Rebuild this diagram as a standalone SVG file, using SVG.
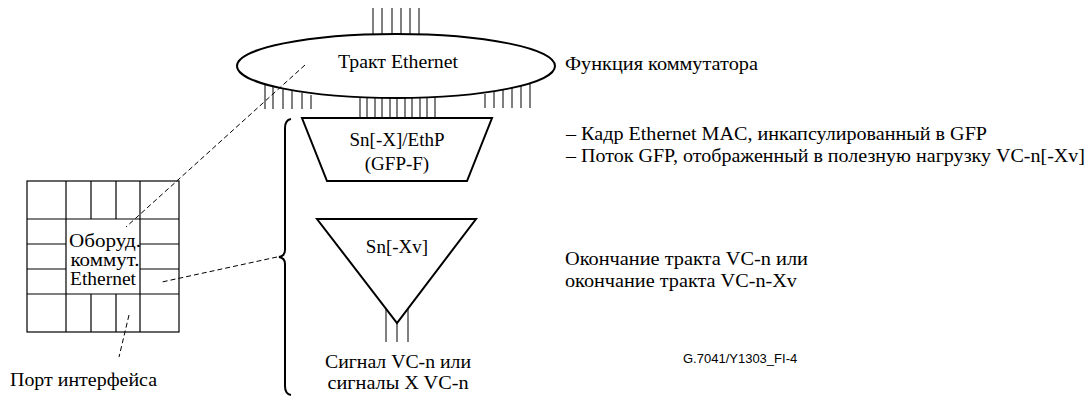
<svg xmlns="http://www.w3.org/2000/svg" width="1091" height="396" viewBox="0 0 1091 396">
<style>
text{font-family:"Liberation Serif","Times New Roman",serif;fill:#000;font-size:19px}
.ln{stroke:#000;stroke-width:1;fill:none}
.sh{stroke:#000;stroke-width:2;fill:#fff}
.ds{stroke:#000;stroke-width:1;fill:none;stroke-dasharray:5,3}
.code{font-family:"Liberation Sans",Arial,sans-serif;font-size:13px}
</style>
<rect width="1091" height="396" fill="#fff"/>
<g id="switch-function">
<g class="ln">
<path d="M373 8V34M382 8V34M392 8V34M401 8V34M410 8V34M419 8V34"/>
<path d="M265 82V109M273 86V109M283 89V109M292 91V109M302 93V109M311 95V109"/>
<path d="M485 94V108M494 92V108M503 90V108M512 88V108M521 85V108M530 82V108"/>
<path d="M360 97V118M367 98V118M375 98V118M382 98V118M390 98V118M397 98V118M405 98V118M412 98V118M420 98V118M427 97V118M435 97V118"/>
</g>
<ellipse cx="396" cy="66" rx="159" ry="32" class="sh"/>
<text x="398" y="68" text-anchor="middle" textLength="120" lengthAdjust="spacingAndGlyphs">Тракт Ethernet</text>
<text x="565" y="70" textLength="193" lengthAdjust="spacingAndGlyphs">Функция коммутатора</text>
</g>
<g id="adapter">
<polygon points="302,118 492,118 467,181 327,181" class="sh"/>
<text x="397" y="146" text-anchor="middle">Sn[-X]/EthP</text>
<text x="397" y="170" text-anchor="middle">(GFP-F)</text>
<text x="566" y="140" textLength="421" lengthAdjust="spacingAndGlyphs">– Кадр Ethernet MAC, инкапсулированный в GFP</text>
<text x="566" y="162" textLength="519" lengthAdjust="spacingAndGlyphs">– Поток GFP, отображенный в полезную нагрузку VC-n[-Xv]</text>
</g>
<g id="termination">
<polygon points="317,219 476,219 397,323" class="sh"/>
<text x="397" y="253" text-anchor="middle">Sn[-Xv]</text>
<path class="ln" d="M386 309V342M397 323V342M408 309V342"/>
<text x="565" y="265" textLength="243" lengthAdjust="spacingAndGlyphs">Окончание тракта VC-n или</text>
<text x="565" y="287" textLength="232" lengthAdjust="spacingAndGlyphs">окончание тракта VC-n-Xv</text>
<text x="398" y="368" text-anchor="middle" textLength="146" lengthAdjust="spacingAndGlyphs">Сигнал VC-n или</text>
<text x="398" y="389" text-anchor="middle" textLength="141" lengthAdjust="spacingAndGlyphs">сигналы X VC-n</text>
</g>
<g id="brace">
<path d="M291 119Q285 120 285 128L285 250Q285 256 279 257Q285 258 285 264L285 386Q285 394 291 395" stroke="#000" stroke-width="2" fill="none"/>
</g>
<g id="equipment">
<rect x="27" y="181" width="152" height="151" fill="#fff" stroke="#000" stroke-width="1.2"/>
<g class="ln" style="stroke-width:1.2">
<path d="M27 219H179M27 294H179M27 244H66M27 269H66M140 244H179M140 269H179"/>
<path d="M66 181V332M140 181V332M91 181V219M116 181V219M91 294V332M116 294V332"/>
</g>
<text x="105" y="247" text-anchor="middle" textLength="72" lengthAdjust="spacingAndGlyphs">Оборуд.</text>
<text x="105" y="266" text-anchor="middle" textLength="69" lengthAdjust="spacingAndGlyphs">коммут.</text>
<text x="103" y="285" text-anchor="middle" textLength="66" lengthAdjust="spacingAndGlyphs">Ethernet</text>
<text x="10" y="386" textLength="147" lengthAdjust="spacingAndGlyphs">Порт интерфейса</text>
</g>
<g id="connectors">
<path class="ds" d="M305 65L126 227"/>
<path class="ds" d="M277 257L162 282"/>
<path class="ds" d="M129 315L119 357"/>
</g>
<text x="683" y="363" class="code">G.7041/Y1303_FI-4</text>
</svg>
